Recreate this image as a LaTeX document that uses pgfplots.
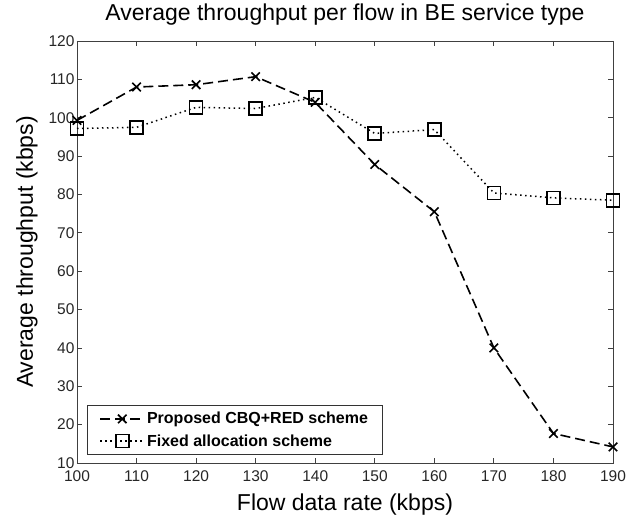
\documentclass[border=0pt]{standalone}
\usepackage{fontspec}
\setmainfont{Liberation Sans}
\usepackage{pgfplots}
\pgfplotsset{compat=1.18}
\begin{document}
\begin{tikzpicture}
\useasboundingbox (-77pt,-54pt) rectangle (567pt,463pt);
\begin{axis}[
  at={(0pt,0pt)}, anchor=south west,
  scale only axis, width=536pt, height=422pt,
  xmin=100, xmax=190, ymin=10, ymax=120,
  xtick={100,110,...,190}, ytick={10,20,...,120},
  tick align=inside, tick pos=both,
  major tick length=5pt,
  axis line style={draw=black!75, line width=0.8pt},
  tick style={draw=black!75, line width=0.8pt},
  /pgf/number format/assume math mode=true,
  tick label style={font=\fontsize{15.5}{17}\selectfont, text=black!85},
  xticklabel style={yshift=-4pt},
  yticklabel style={xshift=1pt},
  title={Average throughput per flow in BE service type},
  title style={font=\fontsize{23}{26}\selectfont, at={(axis description cs:0.5,1)}, anchor=base, yshift=14pt},
  xlabel={Flow data rate (kbps)},
  ylabel={Average throughput (kbps)},
  label style={font=\fontsize{23}{26}\selectfont},
  xlabel style={at={(axis description cs:0.5,0)}, anchor=base, yshift=-47pt},
  ylabel style={at={(axis description cs:0,0.5)}, anchor=center, yshift=50pt},
  legend style={at={(0.0187,0.019)}, anchor=south west,
    font=\bfseries\fontsize{16}{18}\selectfont, draw=black!80, line width=0.9pt,
    inner xsep=12pt, inner ysep=5pt, row sep=5pt, cells={anchor=west}},
  legend cell align=left,
  legend image code/.code={
    \draw[mark repeat=2,mark phase=2,#1] plot coordinates {(0pt,0pt) (22pt,0pt) (44pt,0pt)};},
]
\addplot[black, line width=1.6pt, dash pattern=on 10pt off 5pt,
  mark=x, mark size=6pt, mark options={solid, line width=1.6pt}]
  coordinates {(100,99.3) (110,108) (120,108.6) (130,110.7) (140,104) (150,87.8) (160,75.5) (170,40) (180,17.7) (190,14.2)};
\addlegendentry{Proposed CBQ+RED scheme}
\addplot[black, line width=1.5pt, dash pattern=on 1.5pt off 3.5pt,
  mark=square, mark size=6.5pt, mark options={solid, line width=1.6pt}]
  coordinates {(100,97.2) (110,97.5) (120,102.7) (130,102.4) (140,105.3) (150,95.9) (160,96.9) (170,80.4) (180,79.1) (190,78.5)};
\addlegendentry{Fixed allocation scheme}
\end{axis}
\end{tikzpicture}
\end{document}
